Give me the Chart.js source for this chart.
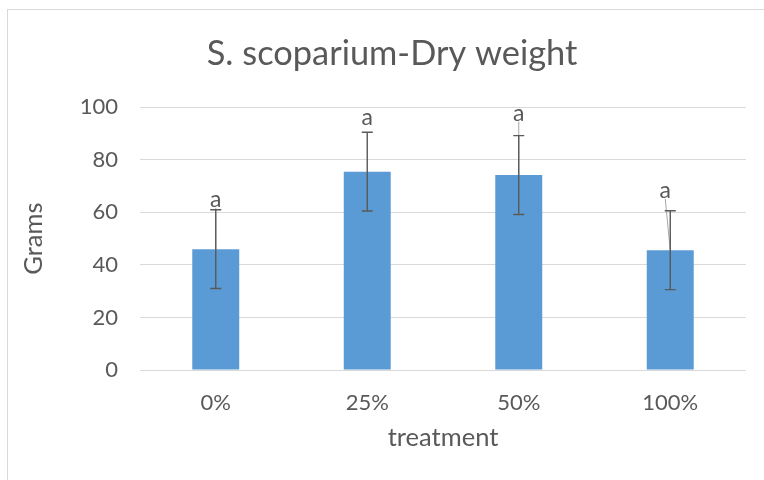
<!DOCTYPE html>
<html>
<head>
<meta charset="utf-8">
<script src="https://cdn.jsdelivr.net/npm/chart.js@4/dist/chart.umd.min.js"></script>
<style>
  html,body{margin:0;padding:0;background:#fff;overflow:hidden}
  #frame{position:absolute;left:7px;top:9px;width:900px;height:600px;border:1px solid #d9d9d9}
  #wrap{position:absolute;left:0;top:0;width:764px;height:480px}
</style>
</head>
<body>
<div id="frame"></div>
<div id="wrap"><canvas id="chart" width="764" height="480"></canvas></div>
<script>
// data
const treatments = ['0%','25%','50%','100%'];
const dryWeight = [46.0, 75.5, 74.2, 45.6];
const stdError = [15.0, 15.0, 15.0, 15.0];
const letters = ['a','a','a','a'];
const yTicks = [0,20,40,60,80,100];

const FONT = 'Lato, "Open Sans", sans-serif';
const TXT = '#595959';

// error bars + significance letters (Excel style)
const errorBars = {
  id:'errorBars',
  afterDatasetsDraw(chart, args, opts){
    const {ctx, scales:{y}} = chart;
    const meta = chart.getDatasetMeta(0);
    ctx.save();
    meta.data.forEach((bar, i) => {
      const cx = bar.x;
      const top = y.getPixelForValue(dryWeight[i] + stdError[i]);
      const bot = y.getPixelForValue(dryWeight[i] - stdError[i]);
      const off = opts.labelOffsets[i];
      const lx = cx + off.x, ly = top + off.y;
      // leader line from label to bar top
      if (opts.leaders[i]) {
        ctx.strokeStyle = '#a6a6a6';
        ctx.lineWidth = 1;
        ctx.beginPath();
        ctx.moveTo(lx, ly + 8);
        ctx.lineTo(cx, bar.y);
        ctx.stroke();
      }
      ctx.strokeStyle = '#595959';
      ctx.lineWidth = 1.4;
      ctx.beginPath();
      ctx.moveTo(cx, top); ctx.lineTo(cx, bot);
      ctx.moveTo(cx - 5.5, top); ctx.lineTo(cx + 5.5, top);
      ctx.moveTo(cx - 5.5, bot); ctx.lineTo(cx + 5.5, bot);
      ctx.stroke();
      ctx.fillStyle = TXT;
      ctx.font = '23px ' + FONT;
      ctx.textAlign = 'center';
      ctx.textBaseline = 'middle';
      ctx.fillText(letters[i], lx, ly);
    });
    ctx.restore();
  }
};

new Chart(document.getElementById('chart'), {
  type:'bar',
  data:{
    labels: treatments,
    datasets:[{
      data: dryWeight,
      backgroundColor:'#5b9bd5',
      borderWidth:0,
      barPercentage:0.31,
      categoryPercentage:1
    }]
  },
  options:{
    responsive:false,
    animation:false,
    // left padding keeps the title centred like the original
    layout:{padding:{left:38,right:18,top:0,bottom:0}},
    plugins:{
      legend:{display:false},
      tooltip:{enabled:false},
      title:{display:true,text:'S. scoparium-Dry weight',color:TXT,
        font:{family:FONT,size:34.4,weight:'normal'},padding:{top:33,bottom:33}},
      errorBars:{
        labelOffsets:[{x:0,y:-10},{x:0,y:-15},{x:0,y:-22},{x:-5,y:-20}],
        leaders:[true,false,true,true]
      }
    },
    scales:{
      x:{
        grid:{display:false,drawTicks:false},
        border:{display:false},
        ticks:{color:TXT,padding:20,font:{family:FONT,size:22}},
        title:{display:true,text:'treatment',color:TXT,font:{family:FONT,size:25.5},padding:{top:0,bottom:27}},
        afterFit(s){ s.height = 110; }
      },
      y:{
        min:0,max:100,
        afterBuildTicks(s){ s.ticks = yTicks.map(v => ({value:v})); },
        grid:{color:'#d9d9d9',lineWidth:1,drawTicks:false},
        border:{display:false},
        ticks:{color:TXT,padding:22,font:{family:FONT,size:22}},
        title:{display:true,text:'Grams',color:TXT,font:{family:FONT,size:25.5},padding:{top:-20,bottom:0}},
        afterFit(s){ s.width = 102; }
      }
    }
  },
  plugins:[errorBars]
});
</script>
</body>
</html>
